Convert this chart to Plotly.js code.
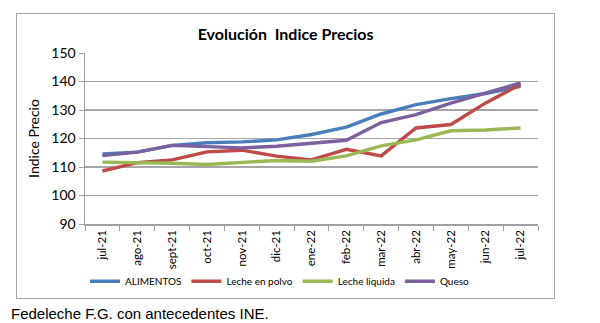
<!DOCTYPE html>
<html>
<head>
<meta charset="utf-8">
<script src="https://cdn.plot.ly/plotly-3.0.1.min.js"></script>
<style>
  html, body { margin: 0; padding: 0; background: #fff; }
  #wrap { position: relative; width: 600px; height: 323px; }
  #chart { position: absolute; left: 0; top: 0; width: 600px; height: 323px; }
  #frame { position: absolute; left: 16px; top: 13px; width: 537px; height: 284px; border: 1.5px solid #a6a6a6; pointer-events: none; }
</style>
</head>
<body>
<div id="wrap">
  <div id="chart"></div>
  <div id="frame"></div>
</div>
<script>
const categories = ["jul-21","ago-21","sept-21","oct-21","nov-21","dic-21","ene-22","feb-22","mar-22","abr-22","may-22","jun-22","jul-22"];
const alimentos   = [114.6, 115.2, 117.6, 118.5, 118.8, 119.5, 121.4, 124.0, 128.6, 131.9, 134.0, 135.8, 138.3];
const lechePolvo  = [108.6, 111.5, 112.5, 115.3, 115.9, 113.8, 112.5, 116.2, 113.9, 123.7, 124.9, 132.5, 139.0];
const lecheLiquida= [111.7, 111.6, 111.3, 110.9, 111.5, 112.3, 112.0, 113.9, 117.4, 119.5, 122.7, 123.0, 123.7];
const queso       = [114.0, 115.2, 117.6, 117.3, 116.7, 117.3, 118.3, 119.4, 125.6, 128.4, 132.4, 135.8, 139.5];
const seriesNames = ["ALIMENTOS", "Leche en polvo", "Leche liquida", "Queso"];
const yTicks = [90, 100, 110, 120, 130, 140, 150];

const colors = ["#4a7ebb", "#be4b48", "#98b954", "#7d60a0"];
const data = [alimentos, lechePolvo, lecheLiquida, queso].map((vals, i) => ({
  type: "scatter",
  mode: "lines",
  x: categories,
  y: vals,
  name: seriesNames[i],
  line: { color: colors[i], width: 3.4 }
}));

const calib = "Lato, 'Open Sans', sans-serif";
const layout = {
  width: 600, height: 323,
  margin: { l: 85, r: 62, t: 53, b: 99 },
  paper_bgcolor: "#fff",
  plot_bgcolor: "#fff",
  showlegend: true,
  title: {
    text: "<b>Evolución  Indice Precios</b>",
    font: { family: calib, size: 16, color: "#000" },
    x: 0.476, xref: "container", xanchor: "center",
    y: 0.892, yref: "container", yanchor: "middle"
  },
  xaxis: {
    type: "category",
    categoryorder: "array",
    categoryarray: categories,
    range: [-0.5, 12.5],
    tickangle: -90,
    tickson: "boundaries",
    ticks: "outside",
    ticklen: 5,
    tickcolor: "#a0a0a0",
    tickfont: { family: calib, size: 11.5, color: "#000" },
    showgrid: false,
    showline: true,
    linecolor: "#a0a0a0",
    linewidth: 1.5,
    zeroline: false,
    fixedrange: true
  },
  yaxis: {
    range: [90, 150],
    tickvals: yTicks,
    ticktext: yTicks.map(String),
    ticks: "outside",
    ticklen: 5,
    tickcolor: "#a0a0a0",
    tickfont: { family: calib, size: 14, color: "#000" },
    showgrid: true,
    gridcolor: "#a6a6a6",
    gridwidth: 1.5,
    showline: true,
    linecolor: "#a0a0a0",
    linewidth: 1.5,
    zeroline: false,
    title: { text: "Indice Precio", font: { family: calib, size: 14, color: "#000" }, standoff: 8 },
    fixedrange: true
  },
  legend: {
    orientation: "h",
    x: 0.0, xanchor: "left",
    y: -0.335, yanchor: "middle",
    font: { family: calib, size: 10, color: "#000" },
    itemwidth: 30,
    traceorder: "normal",
    bgcolor: "rgba(0,0,0,0)"
  },
  annotations: [{
    text: "Fedeleche F.G. con antecedentes INE.",
    xref: "paper", yref: "paper",
    x: -0.168, y: -0.523, xanchor: "left", yanchor: "middle",
    showarrow: false,
    font: { family: "'Liberation Sans', Arial, sans-serif", size: 15, color: "#000" }
  }]
};

Plotly.newPlot("chart", data, layout, { displayModeBar: false, staticPlot: true });
</script>
</body>
</html>
